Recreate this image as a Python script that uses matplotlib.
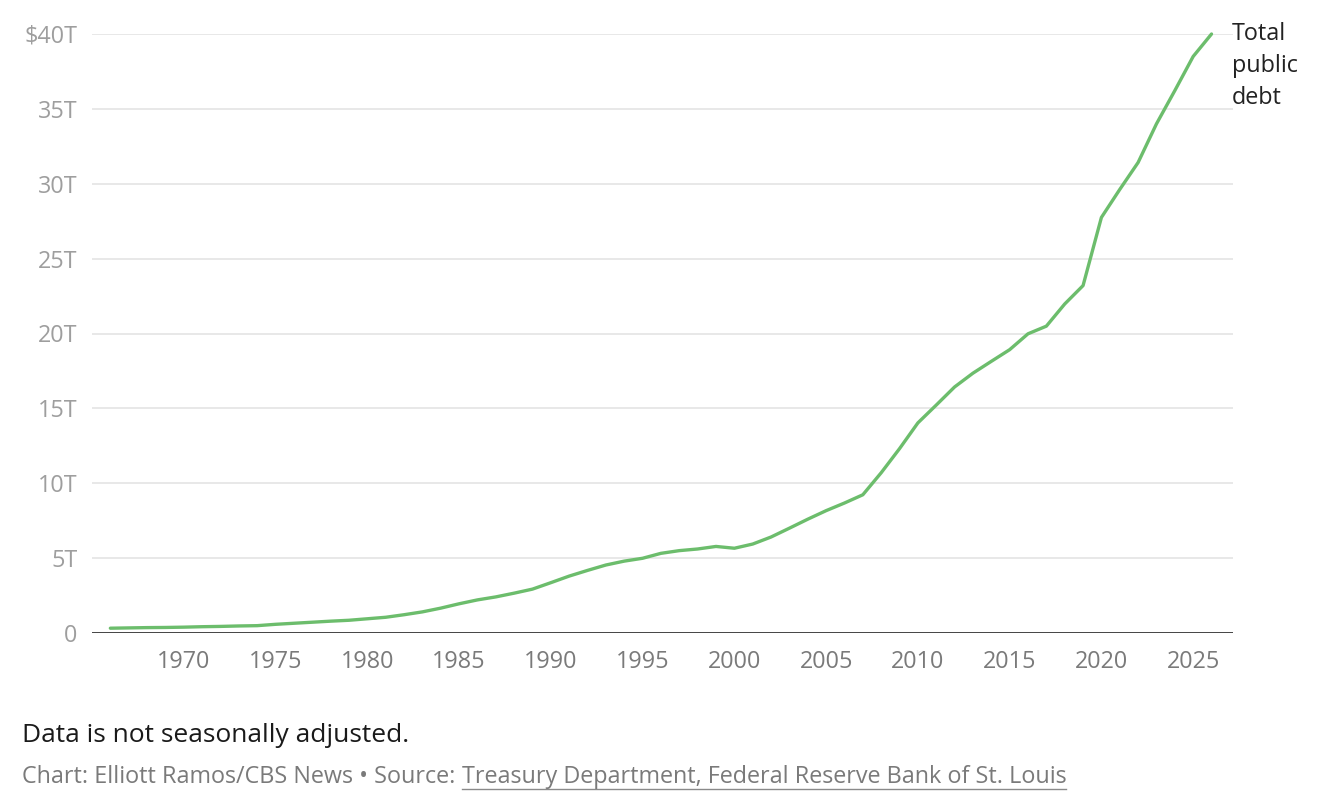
import matplotlib
matplotlib.use("Agg")
import matplotlib.pyplot as plt
from matplotlib.lines import Line2D

years = list(range(1966, 2027))
debt_trillions = [
    0.32, 0.34, 0.36, 0.37, 0.39, 0.42, 0.44, 0.47, 0.49, 0.58,
    0.65, 0.72, 0.79, 0.85, 0.95, 1.05, 1.22, 1.41, 1.66, 1.95,
    2.21, 2.41, 2.66, 2.93, 3.36, 3.80, 4.18, 4.54, 4.80, 4.99,
    5.32, 5.50, 5.61, 5.78, 5.66, 5.94, 6.41, 7.00, 7.60, 8.17,
    8.68, 9.23, 10.70, 12.31, 14.03, 15.22, 16.43, 17.35, 18.14, 18.92,
    19.98, 20.49, 21.97, 23.20, 27.75, 29.62, 31.42, 34.00, 36.22, 38.50,
    40.00,
]
y_ticks = [0, 5, 10, 15, 20, 25, 30, 35, 40]
y_tick_labels = ["0", "5T", "10T", "15T", "20T", "25T", "30T", "35T", "$40T"]
x_ticks = [1970, 1975, 1980, 1985, 1990, 1995, 2000, 2005, 2010, 2015, 2020, 2025]
series_label = "Total\npublic\ndebt"
note = "Data is not seasonally adjusted."
credit = "Chart: Elliott Ramos/CBS News \u2022 Source: "
source = "Treasury Department, Federal Reserve Bank of St. Louis"

FONT = "Open Sans"
W, H = 1334, 810
fig = plt.figure(figsize=(W / 100, H / 100), dpi=100)
fig.patch.set_facecolor("white")

left, right, top, bottom = 92, 1233, 34, 633
ax = fig.add_axes([left / W, 1 - bottom / H, (right - left) / W, (bottom - top) / H])
ax.set_xlim(1965.0, 2027.17)
ax.set_ylim(0, 40)

for v in y_ticks[1:]:
    ax.axhline(v, color="#e6e6e6", lw=1.3, zorder=1)
ax.axhline(0, color="#333333", lw=2.0, zorder=3)

ax.plot(years, debt_trillions, color="#6cbd6c", lw=2.4, zorder=4,
        solid_joinstyle="round", solid_capstyle="round", clip_on=False)

for s in ax.spines.values():
    s.set_visible(False)

ax.set_yticks(y_ticks)
ax.set_yticklabels(y_tick_labels, family=FONT, fontsize=16.8, color="#9e9e9e")
ax.set_xticks(x_ticks)
ax.set_xticklabels([str(x) for x in x_ticks], family=FONT, fontsize=16.8, color="#7a7a7a")
ax.tick_params(axis="y", length=0, pad=10.5)
ax.tick_params(axis="x", length=0, pad=12)

ax.annotate(series_label, xy=(years[-1], debt_trillions[-1]), xytext=(14.5, 8.5),
            textcoords="offset points", ha="left", va="top",
            family=FONT, fontsize=16.8, color="#222222", linespacing=1.45,
            annotation_clip=False)

fig.text(22 / W, 1 - 735 / H, note, family=FONT, fontsize=19, color="#1a1a1a",
         ha="left", va="center")

t1 = fig.text(22 / W, 1 - 777 / H, credit, family=FONT, fontsize=16.8, color="#7a7a7a",
              ha="left", va="center")
fig.canvas.draw()
r = fig.canvas.get_renderer()
bb = t1.get_window_extent(r)
t2 = fig.text(bb.x1 / W, 1 - 777 / H, source, family=FONT, fontsize=16.8, color="#7a7a7a",
              ha="left", va="center")
bb2 = t2.get_window_extent(r)
uy = (H - 789) / H
fig.add_artist(Line2D([bb2.x0 / W, bb2.x1 / W], [uy, uy], color="#8a8a8a", lw=1.0,
                      transform=fig.transFigure))

fig.savefig("out.png", dpi=100, facecolor="white")
